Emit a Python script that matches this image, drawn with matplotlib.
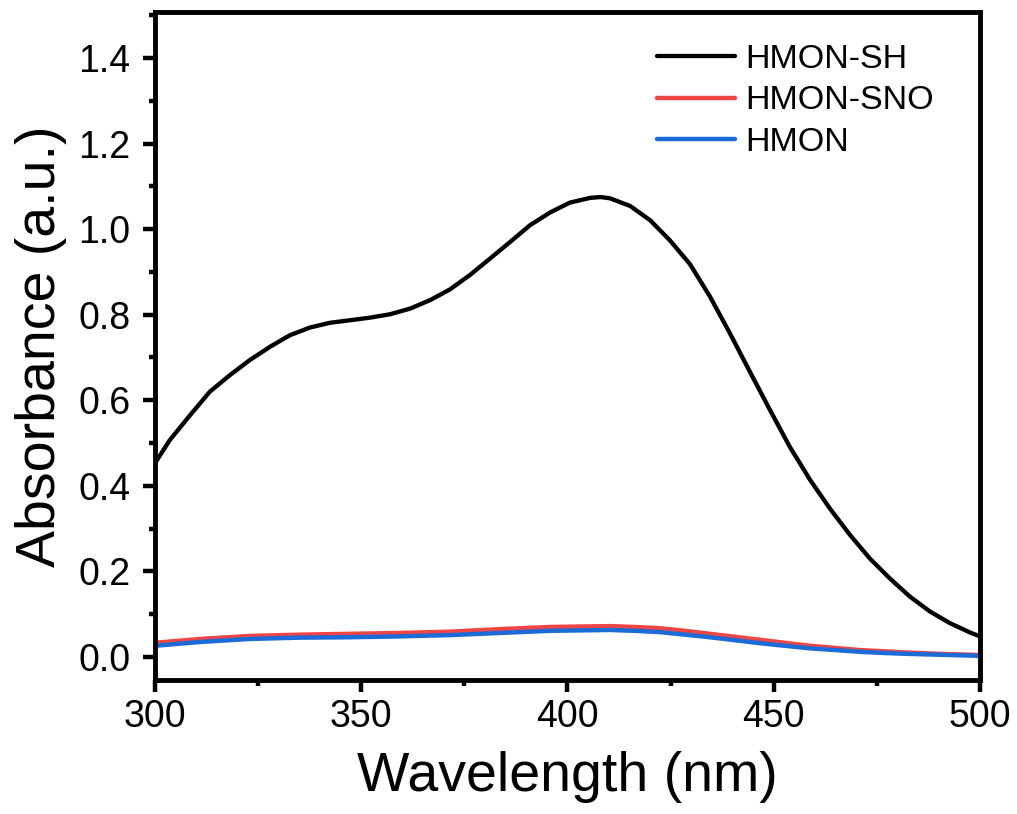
import matplotlib
matplotlib.use("Agg")
import matplotlib.pyplot as plt
from matplotlib.ticker import MultipleLocator, FormatStrFormatter

plt.rcParams['font.family'] = ['Liberation Sans', 'DejaVu Sans']

wl_sh = [300, 303.6, 308.5, 313.3, 318.2, 323, 327.9, 332.7, 337.6, 342.4, 347.3, 352.1, 357,
         361.8, 366.7, 371.5, 376.4, 381.2, 386.1, 390.9, 395.8, 400.6, 405.5, 408, 410.3,
         415.2, 420, 424.8, 429.7, 434.5, 439.4, 444.2, 449.1, 453.9, 458.8, 463.6, 468.5,
         473.3, 478.2, 483, 487.9, 492.7, 497.6, 500]
abs_sh = [0.453, 0.507, 0.565, 0.620, 0.659, 0.694, 0.725, 0.752, 0.770, 0.781, 0.787, 0.793,
          0.801, 0.814, 0.834, 0.859, 0.893, 0.931, 0.970, 1.009, 1.039, 1.062, 1.073, 1.075,
          1.072, 1.054, 1.021, 0.974, 0.918, 0.843, 0.756, 0.667, 0.577, 0.491, 0.414, 0.347,
          0.285, 0.230, 0.183, 0.141, 0.106, 0.079, 0.057, 0.048]

wl_low = [300, 311, 323, 335, 347.3, 359.4, 371.5, 383.6, 395.8, 403, 410.3, 416.3, 422.4,
          428.5, 434.5, 440.6, 446.7, 452.7, 458.8, 464.9, 470.9, 477, 483, 490.6, 498.3, 500]
abs_sno = [0.033, 0.042, 0.049, 0.052, 0.054, 0.056, 0.059, 0.065, 0.070, 0.071, 0.072, 0.070,
           0.067, 0.061, 0.054, 0.047, 0.040, 0.033, 0.026, 0.021, 0.016, 0.013, 0.010, 0.007,
           0.005, 0.004]
abs_hmon = [0.026, 0.035, 0.042, 0.045, 0.046, 0.048, 0.051, 0.056, 0.061, 0.062, 0.063, 0.061,
            0.058, 0.052, 0.046, 0.039, 0.032, 0.026, 0.020, 0.016, 0.012, 0.009, 0.007, 0.005,
            0.003, 0.002]

fig = plt.figure(figsize=(10.17, 8.14), dpi=100)
ax = fig.add_axes([0.1524, 0.1646, 0.8112, 0.8204])

ax.plot(wl_sh, abs_sh, color='black', lw=3.1, label='HMON-SH', solid_capstyle='round',
        solid_joinstyle='round')
ax.plot(wl_low, abs_sno, color='#F04545', lw=3.2, label='HMON-SNO', solid_capstyle='round',
        solid_joinstyle='round')
ax.plot(wl_low, abs_hmon, color='#1B6BD9', lw=3.2, label='HMON', solid_capstyle='round',
        solid_joinstyle='round')

ax.set_xlim(300, 500)
ax.set_ylim(-0.054, 1.507)
ax.xaxis.set_major_locator(MultipleLocator(50))
ax.xaxis.set_minor_locator(MultipleLocator(25))
ax.yaxis.set_major_locator(MultipleLocator(0.2))
ax.yaxis.set_minor_locator(MultipleLocator(0.1))
ax.yaxis.set_major_formatter(FormatStrFormatter('%.1f'))

for s in ax.spines.values():
    s.set_linewidth(3.5)
ax.tick_params(which='major', direction='out', length=8.5, width=3.2, labelsize=27)
ax.tick_params(which='minor', direction='out', length=4.5, width=3.2)
ax.tick_params(axis='x', which='major', pad=5)
ax.tick_params(axis='y', which='major', pad=9)
ax.tick_params(top=False, right=False, which='both')

ax.set_xlabel('Wavelength (nm)', fontsize=40, labelpad=12)
ax.set_ylabel('Absorbance (a.u.)', fontsize=40, labelpad=8)

leg = ax.legend(loc='upper left', bbox_to_anchor=(0.608, 0.953), frameon=False, fontsize=24.5,
                handlelength=2.3, handletextpad=0.3, labelspacing=0.32, borderaxespad=0,
                borderpad=0)

fig.savefig('out.png', dpi=100)
